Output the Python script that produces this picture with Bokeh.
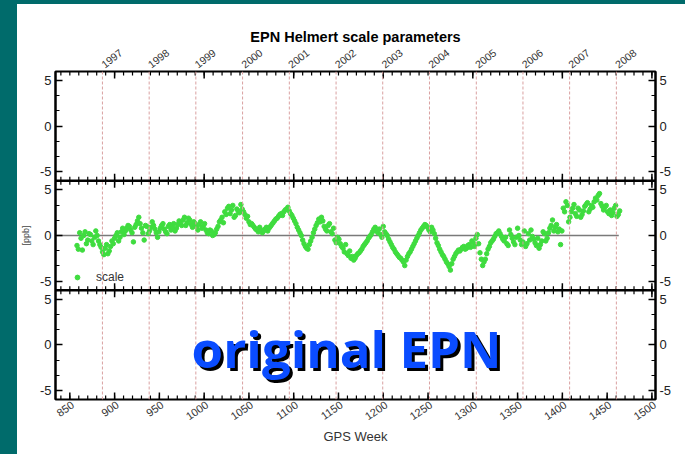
from math import pi
from bokeh.plotting import figure
from bokeh.models import (Range1d, LinearAxis, FixedTicker, Span, Label, Spacer)
from bokeh.layouts import row, column
from bokeh.embed import file_html
from bokeh.resources import INLINE

# ---------------- data ----------------
scale = [
    -1.1, 0.3, -1.6, 0.4, -0.5, 0.1, -1.0, 0.5, -0.6, -1.3,
    -2.1, -1.0, -1.7, -0.6, -0.3, 0.3, -0.2, 0.8, 0.5, 1.1,
    0.6, -0.7, 1.2, 2.0, 0.8, -0.5, 1.0, 0.5, 1.5, 0.7,
    -0.2, 0.8, 1.3, 0.4, 1.0, 0.6, 1.3, 0.8, 1.6, 1.1,
    2.0, 1.4, 1.7, 0.9, 1.3, 0.6, 1.5, 1.0, 0.6, 0.2,
    0.5, 0.1, 0.7, 1.5, 2.0, 2.6, 3.0, 2.4, 3.3, 2.2,
    2.7, 3.4, 2.6, 1.9, 1.5, 1.3, 0.9, 0.6, 0.9, 0.3,
    0.7, 0.5, 1.0, 1.4, 1.8, 2.1, 2.4, 2.6, 2.9, 2.7,
    2.2, 1.6, 0.9, 0.3, -0.5, -1.2, -1.5, -0.6, 0.3, 1.1,
    1.8, 2.0, 1.0, 0.5, 1.3, 0.2, -0.5, -0.2, -0.9, -1.4,
    -1.0, -2.2, -2.5, -2.7, -2.2, -1.9, -1.5, -1.0, -0.6, -0.1,
    0.4, 0.9, 0.3, 0.1, 1.0, 0.2, -0.4, -1.0, -1.5, -2.0,
    -2.4, -2.7, -3.3, -2.3, -1.8, -1.2, -0.6, 0.0, 0.6, 1.0,
    1.1, 0.6, 0.9, 0.2, -0.8, -1.5, -2.1, -2.6, -3.1, -3.8,
    -2.6, -2.0, -1.6, -1.5, -1.2, -1.4, -1.0, -0.6, -1.2, 0.1,
    -1.9, -3.3, -2.6, -1.5, -0.8, -0.4, 0.2, 0.5, -0.1, -0.6,
    -0.9, 0.6, -0.3, -1.0, 0.8, -0.5, -0.7, -1.2, 0.2, 0.6,
    -0.4, -1.1, -1.4, -0.6, 0.2, -0.3, 0.8, 1.7, 0.9, 0.4,
    -1.0, 3.0, 3.7, 1.5, 2.6, 3.4, 2.1, 2.8, 2.3, 3.2,
    3.6, 2.9, 3.1, 4.1, 4.4, 3.5, 2.8, 3.3, 2.4, 2.2,
    3.0, 2.1, 2.7,
]
scale_b = [
    -1.5, -0.3, 0.0, -0.9, 0.2, -0.6, -0.2, 0.0, -1.0, -1.8,
    -1.4, -2.0, -1.2, -0.9, 0.0, -0.6, 0.4, 0.1, 0.8, 1.0,
    0.3, 0.9, 1.6, 1.3, 0.3, 1.1, 0.2, 0.9, 1.1, 0.3,
    0.4, 1.1, 0.7, 0.2, 1.2, 0.9, 0.5, 1.2, 1.4, 1.7,
    1.1, 1.9, 1.2, 1.5, 1.0, 1.2, 0.8, 1.3, 0.3, 0.6,
    0.0, 0.3, 1.0, 1.7, 1.4, 2.3, 3.2, 2.8, 2.0, 2.9,
    2.5, 2.9, 2.3, 2.1, 1.2, 1.1, 0.7, 0.4, 0.6, 0.5,
    0.9, 0.8, 1.2, 1.6, 1.9, 2.3, 2.2, 2.8, 3.1, 2.4,
    1.9, 1.3, 0.6, 0.0, -0.9, -1.4, -1.0, -0.2, 0.7, 1.4,
    1.5, 1.6, 0.7, 1.1, 0.4, 0.8, -0.8, -0.4, -1.2, -1.8,
    -2.0, -1.7, -2.3, -2.5, -2.0, -1.7, -1.2, -0.8, -0.3, 0.1,
    0.7, 0.5, 0.7, -0.2, 0.4, 0.0, -0.7, -1.3, -1.8, -2.2,
    -2.5, -2.9, -2.7, -2.0, -1.5, -0.9, -0.3, 0.3, 0.8, 1.2,
    0.9, 0.4, 0.6, -0.3, -1.1, -1.8, -2.3, -2.9, -3.4, -3.1,
    -2.3, -1.8, -1.7, -1.3, -1.5, -1.1, -1.3, -0.8, -0.3, -0.9,
    -2.6, -2.9, -2.0, -1.2, -0.6, -0.1, 0.3, 0.2, -0.4, -0.2,
    -1.1, 0.1, -0.7, -0.2, 0.0, -1.0, 0.5, -0.9, -0.5, -0.1,
    -0.8, -0.3, -1.0, 0.4, -0.6, 0.3, 1.1, 0.5, 1.2, 0.7,
    0.5, 2.6, 3.3, 2.0, 3.0, 2.4, 3.0, 2.0, 2.7, 3.4,
    2.6, 3.3, 3.7, 3.9, 4.6, 3.2, 3.1, 2.6, 2.8, 2.5,
    3.3, 2.3,
]
first_week, first_week_b, week_step = 858, 859.5, 3
weeks = [first_week + week_step * i for i in range(len(scale))]
weeks_b = [first_week_b + week_step * i for i in range(len(scale_b))]

year_labels = ["1997", "1998", "1999", "2000", "2001", "2002",
               "2003", "2004", "2005", "2006", "2007", "2008"]
year_weeks = [886.4, 938.6, 990.7, 1042.9, 1095.1, 1147.3,
              1199.4, 1251.6, 1303.9, 1356.0, 1408.1, 1460.3]
week_labels = list(range(850, 1501, 50))
zero_line_x = [834, 1463]
panel_values = [-5, 0, 5]
panel_centers = [12, 0, -12]

X0, X1 = 834, 1504
HALF = 18
FONT = "Liberation Sans"
FRAME_W = 601
TEAL = "#006b6b"

p = figure(width=668, height=450, x_range=Range1d(X0, X1), y_range=Range1d(-HALF, HALF),
           output_backend="svg", toolbar_location=None,
           x_axis_type=None, y_axis_type=None,
           min_border_left=37, min_border_right=30, min_border_top=67, min_border_bottom=55)
p.outline_line_color = "black"
p.outline_line_width = 2
p.background_fill_color = "white"
p.border_fill_color = "white"

# y axes (left/right), each panel labelled -5, 0, 5
yt = [c + v for c in panel_centers for v in panel_values]
ymin = [c + k * 5 / 3 for c in panel_centers for k in range(-3, 4)]
overrides = {c + v: str(v) for c in panel_centers for v in panel_values}
for side in ("left", "right"):
    ax = LinearAxis(ticker=FixedTicker(ticks=yt, minor_ticks=ymin))
    ax.major_label_overrides = overrides
    ax.major_tick_in = 7
    ax.major_tick_out = 0
    ax.minor_tick_in = 4
    ax.minor_tick_out = 0
    ax.axis_line_width = 2
    ax.major_tick_line_width = 1.5
    ax.major_label_standoff = 4
    ax.major_label_text_font = FONT
    ax.major_label_text_font_size = "13px"
    ax.major_label_text_color = "#222222"
    if side == "left":
        ax.axis_label = "[ppb]"
        ax.axis_label_text_font = FONT
        ax.axis_label_text_font_size = "9px"
        ax.axis_label_text_font_style = "normal"
        ax.axis_label_standoff = 6
    p.add_layout(ax, side)

# top axis: year labels + title
top = LinearAxis(ticker=FixedTicker(ticks=year_weeks, minor_ticks=[]))
top.major_label_overrides = dict(zip(year_weeks, year_labels))
top.major_label_orientation = 0.66
top.major_tick_in = 0
top.major_tick_out = 0
top.axis_line_color = None
top.major_label_standoff = 6
top.major_label_text_font = FONT
top.major_label_text_font_size = "10.5px"
top.major_label_text_color = "#333333"
top.axis_label = "EPN Helmert scale parameters"
top.axis_label_text_font = FONT
top.axis_label_text_font_size = "14.5px"
top.axis_label_text_font_style = "bold"
top.axis_label_text_color = "black"
top.axis_label_standoff = -3
p.add_layout(top, "above")

# bottom axis: week labels (shifted a little right, as in the original) + title
shift = 3 * (X1 - X0) / FRAME_W
bot_ticks = [w + shift for w in week_labels]
bot = LinearAxis(ticker=FixedTicker(ticks=bot_ticks, minor_ticks=[]))
bot.major_label_overrides = {t: str(w) for t, w in zip(bot_ticks, week_labels)}
bot.major_label_orientation = 0.6
bot.major_tick_in = 0
bot.major_tick_out = 0
bot.axis_line_color = None
bot.major_label_standoff = 4
bot.major_label_text_font = FONT
bot.major_label_text_font_size = "11px"
bot.major_label_text_color = "#333333"
bot.axis_label = "GPS Week"
bot.axis_label_text_font = FONT
bot.axis_label_text_font_size = "13px"
bot.axis_label_text_font_style = "normal"
bot.axis_label_text_color = "#333333"
bot.axis_label_standoff = 2
p.add_layout(bot, "below")

# year lines
for w in year_weeks:
    p.add_layout(Span(location=w, dimension="height", line_color="#d9a0a0",
                      line_dash="3 2", line_width=1))

# panel separators
for c in (6, -6):
    p.add_layout(Span(location=c, dimension="width", line_color="black", line_width=2.5))

# x ticks on the edges / separators (inward, crossing on separators)
major_top = list(range(900, 1501, 100))
minor_all = list(range(840, 1501, 10))
edges = [HALF, 6, -6, -HALF]
mx, my = [], []
for e in edges[:-1]:
    for w in major_top:
        mx.append(w); my.append(e)
for w in week_labels:
    mx.append(w); my.append(-HALF)
nx, ny = [], []
for e in edges:
    for w in minor_all:
        nx.append(w); ny.append(e)
p.scatter(nx, ny, marker="dash", angle=pi / 2, size=8, line_color="black", line_width=1.2)
p.scatter(mx, my, marker="dash", angle=pi / 2, size=14, line_color="black", line_width=1.5)

# zero line & data
p.line(zero_line_x, [0, 0], line_color="#7a7a7a", line_width=1.5)
GREEN = "#3fdc3f"
p.scatter(weeks, scale, size=4.5, marker="circle", fill_color=GREEN,
          line_color=GREEN, legend_label="scale")
p.scatter(weeks_b, scale_b, size=4.5, marker="circle", fill_color=GREEN,
          line_color=GREEN)

leg = p.legend[0]
leg.location = (16, 115)
leg.border_line_color = None
leg.background_fill_alpha = 0
leg.padding = 9
leg.margin = 0
leg.glyph_width = 12
leg.glyph_height = 12
leg.label_standoff = 13
leg.label_text_font = FONT
leg.label_text_font_size = "12px"
leg.label_text_color = "#333333"

# overlay caption with shadow
for dx, dy, col in ((3, 15, "black"), (0, 18, "#0a4cff")):
    p.add_layout(Label(x=1159, y=-14.3, x_offset=dx, y_offset=dy, text="original EPN",
                       text_align="center", text_baseline="alphabetic",
                       text_font="Open Sans", text_font_style="bold",
                       text_font_size="51px", text_color=col))

top_strip = Spacer(width=685, height=4, margin=0, styles={"background-color": TEAL})
left_strip = Spacer(width=17, height=450, margin=0, styles={"background-color": TEAL})
layout = column(top_strip, row(left_strip, p))

open("out.html", "w").write(file_html(layout, INLINE))
